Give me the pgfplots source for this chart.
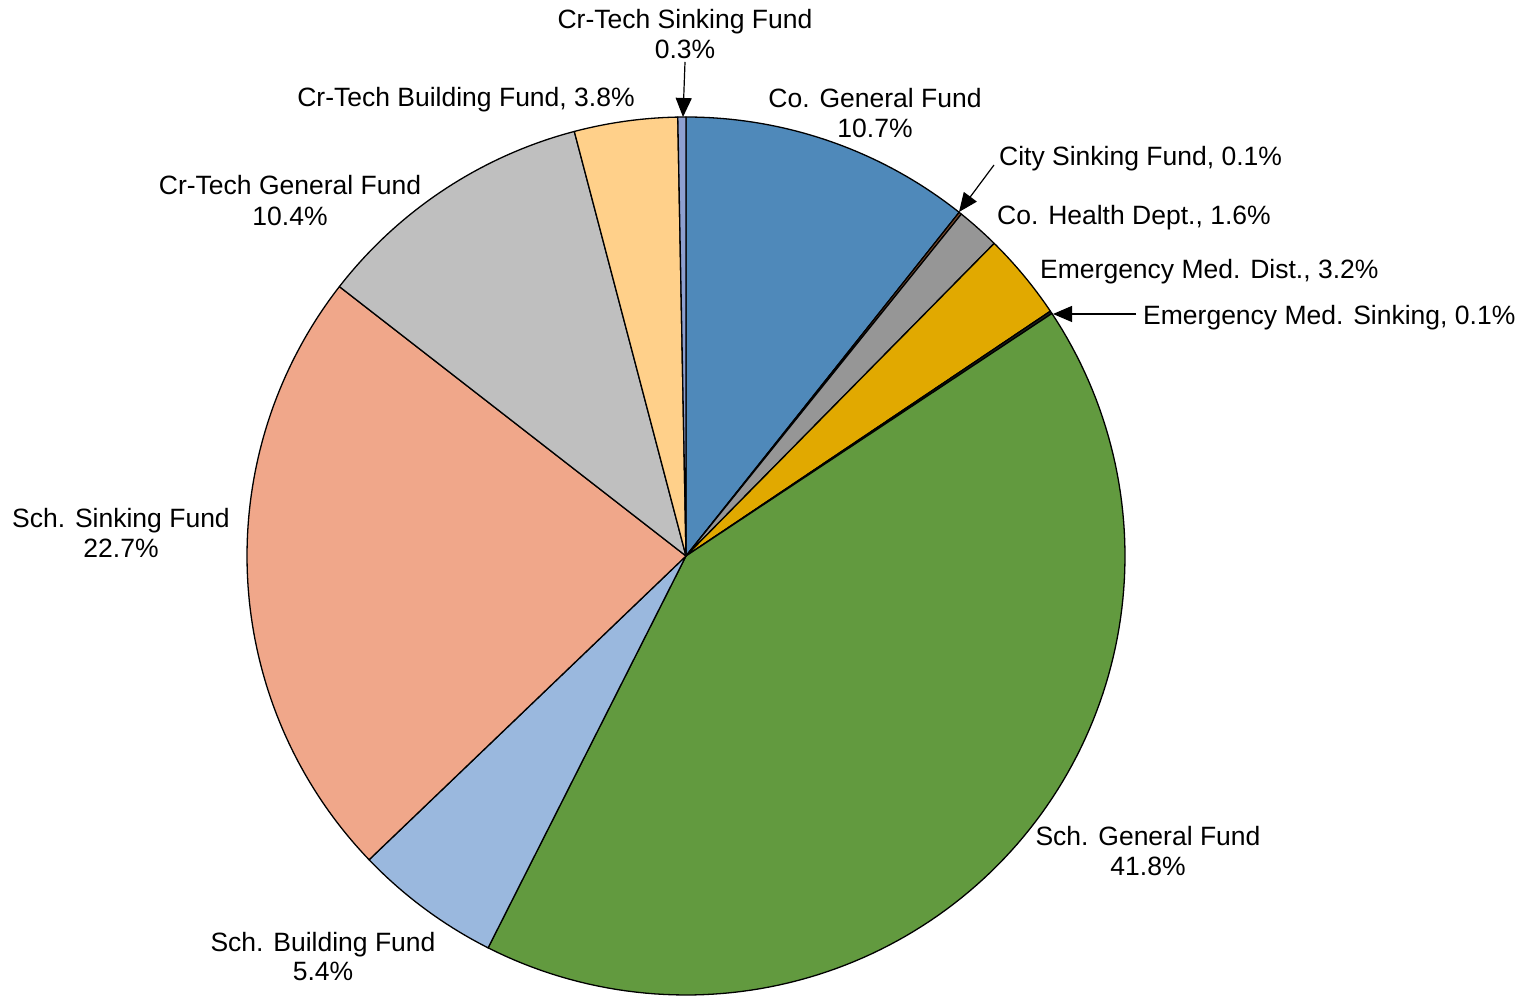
\documentclass[border=0pt]{standalone}
\usepackage{pgfplots}
\pgfplotsset{compat=1.18}
\usepackage{pgfplotstable}
\usetikzlibrary{arrows.meta}
\usepackage{fontspec}
\setmainfont{Liberation Sans}

\pgfplotstableread[col sep=comma]{
name,value
Co. General Fund,10.7
City Sinking Fund,0.1
Co. Health Dept.,1.6
Emergency Med. Dist.,3.2
Emergency Med. Sinking,0.1
Sch. General Fund,41.8
Sch. Building Fund,5.4
Sch. Sinking Fund,22.7
Cr-Tech General Fund,10.4
Cr-Tech Building Fund,3.8
Cr-Tech Sinking Fund,0.3
}\piedata

\definecolor{slice0}{HTML}{4F89BA}
\definecolor{slice1}{HTML}{7B4A2B}
\definecolor{slice2}{HTML}{969696}
\definecolor{slice3}{HTML}{E1A900}
\definecolor{slice4}{HTML}{202020}
\definecolor{slice5}{HTML}{629A3F}
\definecolor{slice6}{HTML}{9AB8DE}
\definecolor{slice7}{HTML}{F0A78A}
\definecolor{slice8}{HTML}{BFBFBF}
\definecolor{slice9}{HTML}{FFD08A}
\definecolor{slice10}{HTML}{8EA0D0}

\def\pcx{686}
\def\pcy{440}
\def\prr{439}

\def\cum{0}%
\pgfplotsforeachungrouped \i in {0,...,10}{%
  \pgfplotstablegetelem{\i}{value}\of\piedata%
  \pgfmathsetmacro\s{90-\cum/100.1*360}%
  \pgfmathsetmacro\cum{\cum+\pgfplotsretval}%
  \pgfmathsetmacro\e{90-\cum/100.1*360}%
  \expandafter\xdef\csname aS\i\endcsname{\s}%
  \expandafter\xdef\csname aE\i\endcsname{\e}%
}%
\def\getS#1{\csname aS#1\endcsname}%
\def\getE#1{\csname aE#1\endcsname}%

\begin{document}%
\begin{tikzpicture}[lab/.style={font=\fontsize{26.5}{30.5}\selectfont, inner sep=0pt},
  arr/.style={line width=1.2pt, -{Triangle[length=19pt,width=16pt]}}]
\begin{axis}[width=1534pt,height=996pt,scale only axis,
  xmin=0,xmax=1534,ymin=0,ymax=996,hide axis,clip=false]
\coordinate (bbsw) at (0,0);
\coordinate (bbne) at (1534,996);
\pgfplotsinvokeforeach{0,...,10}{
  \addplot[draw=black, line width=1.3pt, fill=slice#1, domain={\getE{#1}}:{\getS{#1}}, samples=120, variable=\t, line join=round]
    ({\pcx+\prr*cos(\t)},{\pcy+\prr*sin(\t)}) -- (\pcx,\pcy) -- cycle;
}
% arrows
\draw[arr] (685,934) -- (683,879);
\draw[arr] (994,831) -- (959,784);
\draw[arr] (1136,682) -- (1053,682);
% labels
\node[lab,anchor=base] at (685,967.5) {Cr-Tech Sinking Fund};
\node[lab,anchor=base] at (685,937.5) {0.3\%};
\node[lab,anchor=base] at (875,888.5) {Co. General Fund};
\node[lab,anchor=base] at (875,858.5) {10.7\%};
\node[lab,anchor=base west] at (999,830.5) {City Sinking Fund, 0.1\%};
\node[lab,anchor=base west] at (997,771.5) {Co. Health Dept., 1.6\%};
\node[lab,anchor=base west] at (1040,717.5) {Emergency Med. Dist., 3.2\%};
\node[lab,anchor=base west] at (1143,671.5) {Emergency Med. Sinking, 0.1\%};
\node[lab,anchor=base] at (1148,150.5) {Sch. General Fund};
\node[lab,anchor=base] at (1148,120.5) {41.8\%};
\node[lab,anchor=base] at (323,44.5) {Sch. Building Fund};
\node[lab,anchor=base] at (323,15.5) {5.4\%};
\node[lab,anchor=base] at (121,468.5) {Sch. Sinking Fund};
\node[lab,anchor=base] at (121,438.5) {22.7\%};
\node[lab,anchor=base] at (290,801.5) {Cr-Tech General Fund};
\node[lab,anchor=base] at (290,770.5) {10.4\%};
\node[lab,anchor=base] at (466,889.5) {Cr-Tech Building Fund, 3.8\%};
\end{axis}
\pgfresetboundingbox
\path[use as bounding box] (bbsw) rectangle (bbne);
\end{tikzpicture}%
\end{document}
